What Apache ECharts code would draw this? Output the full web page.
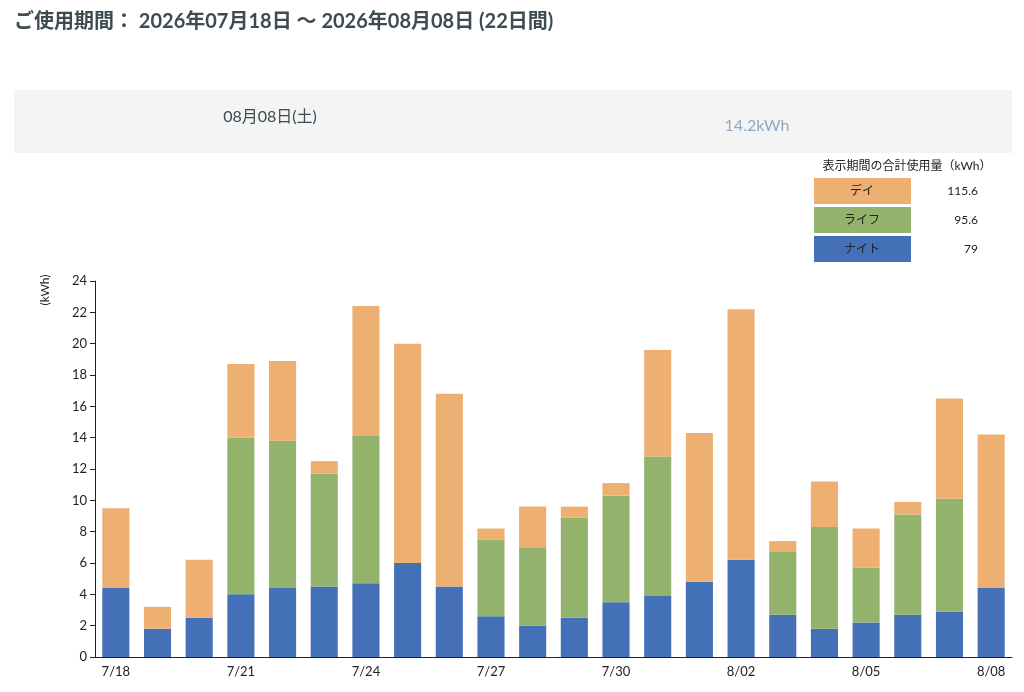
<!DOCTYPE html>
<html><head><meta charset="utf-8">
<script src="https://cdn.jsdelivr.net/npm/echarts@6/dist/echarts.min.js"></script>
<style>html,body{margin:0;padding:0;background:#fff}#c{width:1024px;height:692px}</style>
</head><body><div id="c"></div>
<script>
var days = ['7/18','7/19','7/20','7/21','7/22','7/23','7/24','7/25','7/26','7/27','7/28','7/29','7/30','7/31','8/01','8/02','8/03','8/04','8/05','8/06','8/07','8/08'];
var night = [4.4,1.8,2.5,4.0,4.4,4.5,4.7,6.0,4.5,2.6,2.0,2.5,3.5,3.9,4.8,6.2,2.7,1.8,2.2,2.7,2.9,4.4];
var life  = [0,0,0,10.0,9.4,7.2,9.4,0,0,4.9,5.0,6.4,6.8,8.9,0,0,4.0,6.5,3.5,6.4,7.2,0];
var day   = [5.1,1.4,3.7,4.7,5.1,0.8,8.3,14.0,12.3,0.7,2.6,0.7,0.8,6.8,9.5,16.0,0.7,2.9,2.5,0.8,6.4,9.8];
var totals = [['デイ','115.6'],['ライフ','95.6'],['ナイト','79']];
var colors = ['#edaf72','#93b36d','#4370b7'];

var font = 'Lato, "Noto Sans CJK JP", sans-serif';
var g = [
  {type:'text',left:14,top:12,style:{text:'ご使用期間： 2026年07月18日 〜 2026年08月08日 (22日間)',fill:'#3d4b52',font:'bold 20px '+font}},
  {type:'rect',shape:{x:14,y:90,width:998,height:63},style:{fill:'#f4f4f4'}},
  {type:'text',x:270,y:117,style:{text:'08月08日(土)',fill:'#3d4b52',font:'16px '+font,align:'center',verticalAlign:'middle'}},
  {type:'text',x:757,y:126,style:{text:'14.2kWh',fill:'#8aaac8',font:'16px '+font,align:'center',verticalAlign:'middle'}},
  {type:'text',x:907,y:166,style:{text:'表示期間の合計使用量（kWh）',fill:'#222',font:'12px '+font,align:'center',verticalAlign:'middle'}}
];
totals.forEach(function(t,i){
  var y = 178 + i*29;
  g.push({type:'rect',shape:{x:814,y:y,width:97,height:26},style:{fill:colors[i]}});
  g.push({type:'text',x:862,y:y+13,style:{text:t[0],fill:'#222',font:'12px '+font,align:'center',verticalAlign:'middle'}});
  g.push({type:'text',x:978,y:y+13,style:{text:t[1],fill:'#222',font:'12px '+font,align:'right',verticalAlign:'middle'}});
});
g.push({type:'text',x:45,y:290,rotation:Math.PI/2,style:{text:'(kWh)',fill:'#222',font:'12px '+font,align:'center',verticalAlign:'middle'}});

function s(name,data,c){return {name:name,type:'bar',stack:'a',data:data,barWidth:'65%',itemStyle:{color:c},emphasis:{disabled:true}};}
var chart = echarts.init(document.getElementById('c'));
chart.setOption({
  animation:false,
  textStyle:{fontFamily:font},
  grid:{left:95,right:12,top:281,bottom:35},
  graphic:g,
  xAxis:{type:'category',data:days,axisLine:{lineStyle:{color:'#222'}},axisTick:{interval:2,lineStyle:{color:'#222'}},
    axisLabel:{interval:2,color:'#222',fontSize:13}},
  yAxis:{type:'value',min:0,max:24,interval:2,splitLine:{show:false},axisLine:{show:true,lineStyle:{color:'#222'}},
    axisTick:{show:true,lineStyle:{color:'#222'}},axisLabel:{color:'#222',fontSize:13}},
  series:[s('ナイト',night,colors[2]),s('ライフ',life,colors[1]),s('デイ',day,colors[0])]
});
</script></body></html>
